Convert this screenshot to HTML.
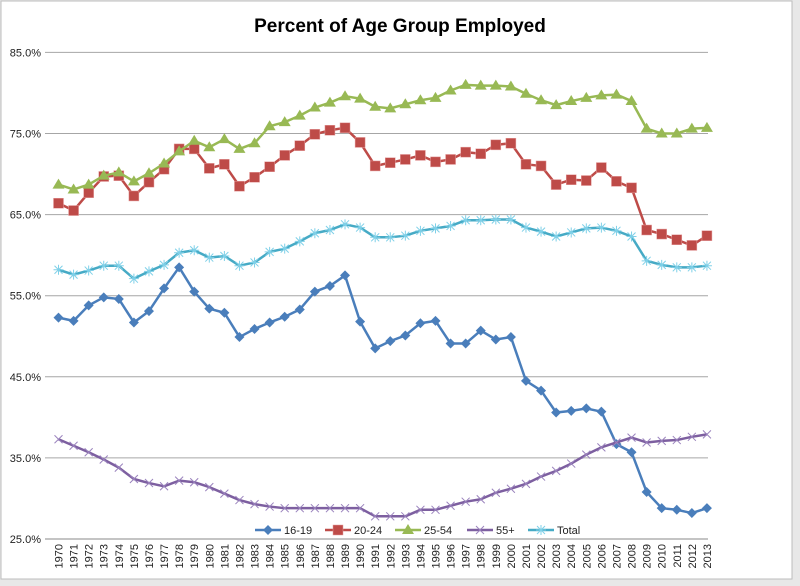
<!DOCTYPE html>
<html><head><meta charset="utf-8"><style>
body{margin:0;background:#fff;font-family:"Liberation Sans",Arial,sans-serif}
svg{display:block}
</style></head><body>
<svg width="800" height="586" xmlns="http://www.w3.org/2000/svg">
<rect x="0" y="0" width="800" height="586" fill="#e8e8e8"/>
<rect x="1" y="1" width="791" height="578" fill="#fff" stroke="#bdbdbd"/>
<text x="400" y="32" text-anchor="middle" font-size="19" font-weight="bold" fill="#000">Percent of Age Group Employed</text>
<g id="grid"></g><g id="series"></g><g id="xlabels"></g>
<g id="legend"></g>
</svg>
<script>
const years=[];for(let y=1970;y<=2013;y++)years.push(y);
const yTicks=[25,35,45,55,65,75,85];
const s1619=[52.3,51.9,53.8,54.8,54.6,51.7,53.1,55.9,58.5,55.5,53.4,52.9,49.9,50.9,51.7,52.4,53.3,55.5,56.2,57.5,51.8,48.5,49.4,50.1,51.6,51.9,49.1,49.1,50.7,49.6,49.9,44.5,43.3,40.6,40.8,41.1,40.7,36.7,35.7,30.8,28.8,28.6,28.2,28.8];
const s2024=[66.4,65.5,67.7,69.7,69.8,67.3,69.0,70.6,73.1,73.1,70.7,71.2,68.5,69.6,70.9,72.3,73.5,74.9,75.4,75.7,73.9,71.0,71.4,71.8,72.3,71.5,71.8,72.7,72.5,73.6,73.8,71.2,71.0,68.7,69.3,69.2,70.8,69.1,68.3,63.1,62.6,61.9,61.2,62.4];
const s2554=[68.7,68.1,68.7,69.8,70.2,69.1,70.1,71.3,72.8,74.1,73.3,74.3,73.1,73.8,75.9,76.4,77.2,78.2,78.8,79.6,79.3,78.3,78.1,78.6,79.1,79.4,80.3,81.0,80.9,80.9,80.8,79.9,79.1,78.5,79.0,79.4,79.7,79.8,79.0,75.6,75.0,75.0,75.6,75.7];
const s55=[37.3,36.5,35.7,34.8,33.8,32.4,31.9,31.5,32.2,32.0,31.4,30.6,29.8,29.3,29.0,28.8,28.8,28.8,28.8,28.8,28.8,27.8,27.8,27.8,28.6,28.6,29.1,29.6,29.9,30.7,31.2,31.8,32.7,33.4,34.3,35.4,36.3,36.9,37.5,36.9,37.1,37.2,37.6,37.9];
const sTotal=[58.2,57.6,58.1,58.7,58.7,57.1,58.0,58.8,60.3,60.6,59.7,59.9,58.7,59.1,60.4,60.8,61.7,62.7,63.1,63.8,63.4,62.2,62.2,62.4,63.0,63.3,63.6,64.3,64.3,64.4,64.4,63.4,62.9,62.3,62.8,63.3,63.4,63.0,62.3,59.3,58.8,58.5,58.5,58.7];
const NS="http://www.w3.org/2000/svg";
const X=i=>58.5+i*15.08;
const Y=v=>539-(v-25)*8.11;
function mk(t,a,p){const e=document.createElementNS(NS,t);for(const k in a)e.setAttribute(k,a[k]);p.appendChild(e);return e;}
const grid=document.getElementById('grid');
yTicks.forEach(v=>{
 const l=mk('line',{x1:45,x2:708,y1:Y(v),y2:Y(v),stroke:v==25?'#888':'#a6a6a6','stroke-width':1},grid);
 
 
 const t=mk('text',{x:41,y:Y(v)+4,'text-anchor':'end','font-size':11,fill:'#222'},grid);
 t.textContent=v.toFixed(1)+'%';
 
 
});
const xl=document.getElementById('xlabels');
years.forEach((y,i)=>{
 const t=mk('text',{x:0,y:0,'text-anchor':'end','font-size':11,fill:'#222',transform:`translate(${X(i)+4},544) rotate(-90)`},xl);
 t.textContent=y;
 
 
});
function marker(g,type,x,y,c){
 if(type=='diamond')mk('polygon',{points:`${x},${y-5} ${x+5},${y} ${x},${y+5} ${x-5},${y}`,fill:c},g);
 else if(type=='square')mk('rect',{x:x-5,y:y-5,width:10,height:10,fill:c,stroke:'#e6a0a0','stroke-width':0.5},g);
 else if(type=='tri')mk('polygon',{points:`${x},${y-6} ${x+6},${y+4} ${x-6},${y+4}`,fill:c},g);
 else if(type=='x'){mk('path',{d:`M${x-4},${y-4}L${x+4},${y+4}M${x+4},${y-4}L${x-4},${y+4}`,stroke:'#9a83bd','stroke-width':1},g);}
 else if(type=='star'){mk('path',{d:`M${x-5},${y}L${x+5},${y}M${x-4},${y-4}L${x+4},${y+4}M${x+4},${y-4}L${x-4},${y+4}M${x},${y-5}L${x},${y+5}`,stroke:'#7fd0e8','stroke-width':1},g);}
}
const series=[
 {name:'16-19',data:s1619,c:'#4a7ebb',m:'diamond'},
 {name:'20-24',data:s2024,c:'#be4b48',m:'square'},
 {name:'25-54',data:s2554,c:'#98b954',m:'tri'},
 {name:'55+',data:s55,c:'#7d5fa0',m:'x'},
 {name:'Total',data:sTotal,c:'#46aac5',m:'star'}];
const sg=document.getElementById('series');
series.forEach(s=>{
 const g=mk('g',{},sg);
 
 
 mk('polyline',{points:s.data.map((v,i)=>X(i)+','+Y(v)).join(' '),fill:'none',stroke:s.c,'stroke-width':2.5,'stroke-linejoin':'round'},g);
 s.data.forEach((v,i)=>marker(g,s.m,X(i),Y(v),s.c));
});
const lg=document.getElementById('legend');
const lx=[255,325,395,467,528];
series.forEach((s,i)=>{
 const g=mk('g',{},lg);
 
 
 mk('line',{x1:lx[i],x2:lx[i]+26,y1:530,y2:530,stroke:s.c,'stroke-width':2.5},g);
 marker(g,s.m,lx[i]+13,530,s.c);
 const t=mk('text',{x:lx[i]+29,y:534,'font-size':11,fill:'#222'},g);
 t.textContent=s.name;
});
</script>
</body></html>
